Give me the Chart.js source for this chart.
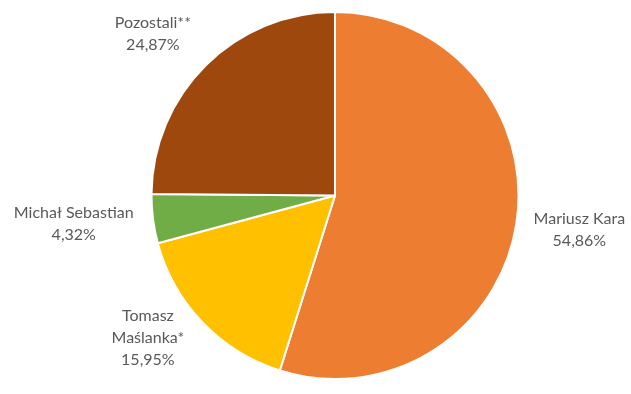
<!DOCTYPE html>
<html>
<head>
<meta charset="utf-8">
<script src="https://cdn.jsdelivr.net/npm/chart.js@4"></script>
<style>
  html, body { margin: 0; padding: 0; background: #fff; }
  #wrap { width: 631px; height: 394px; }
</style>
</head>
<body>
<div id="wrap"><canvas id="pieChart"></canvas></div>
<script>
// Data
const names = [['Mariusz Kara'], ['Tomasz', 'Maślanka*'], ['Michał Sebastian'], ['Pozostali**']];
const shares = [54.86, 15.95, 4.32, 24.87];
const colors = ['#ED7D31', '#FFC000', '#70AD47', '#9E480E'];

// small per-label nudges so the labels sit where Excel put them
const nudges = [[-2, 0], [-14, -21], [0, 0], [-12, -2]];

const outsideLabels = {
    id: 'outsideLabels',
    afterDatasetsDraw(chart) {
        const ctx = chart.ctx;
        const meta = chart.getDatasetMeta(0);
        const lineH = 22;
        ctx.save();
        ctx.font = '16px Lato';
        ctx.fillStyle = '#595959';
        ctx.textAlign = 'center';
        ctx.textBaseline = 'middle';
        meta.data.forEach((arc, i) => {
            const lines = names[i].concat([shares[i].toFixed(2).replace('.', ',') + '%']);
            const w = Math.max(...lines.map(l => ctx.measureText(l).width));
            const h = lines.length * lineH;
            const mid = (arc.startAngle + arc.endAngle) / 2;
            const dx = Math.cos(mid), dy = Math.sin(mid);
            const gap = 20;
            const cx = arc.x + (arc.outerRadius + gap) * dx + dx * w / 2 + nudges[i][0];
            const cy = arc.y + (arc.outerRadius + gap) * dy + dy * h / 2 + nudges[i][1];
            lines.forEach((l, k) => {
                ctx.fillText(l, cx, cy - h / 2 + lineH / 2 + k * lineH);
            });
        });
        ctx.restore();
    }
};

const ctx = document.getElementById('pieChart').getContext('2d');
let chart = new Chart(ctx, {
    type: 'pie',
    data: {
        labels: names.map(n => n.join(' ')),
        datasets: [{
            data: shares,
            backgroundColor: colors,
            borderColor: '#ffffff',
            borderWidth: 2
        }]
    },
    options: {
        responsive: true,
        maintainAspectRatio: false,
        animation: false,
        layout: { padding: { top: 11, bottom: 14, left: 39, right: 0 } },
        plugins: {
            legend: { display: false },
            tooltip: { enabled: false }
        }
    },
    plugins: [outsideLabels]
});
</script>
</body>
</html>
